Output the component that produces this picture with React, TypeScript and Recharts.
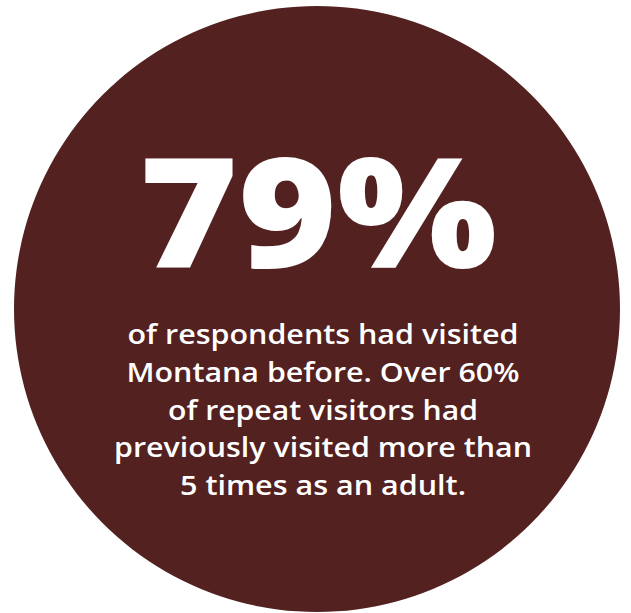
import React from 'react';
import { PieChart, Pie, Cell, Label } from 'recharts';

const sliceNames = ['Had visited Montana before'];
const sliceValues = [79];
const headline = '79%';
const bodyLines = [
  'of respondents had visited',
  'Montana before. Over 60%',
  'of repeat visitors had',
  'previously visited more than',
  '5 times as an adult.',
];
// measured widths of each line in the reference
const bodyWidths = [391, 393, 310, 418, 286];

const FILL = '#532120';

const CircleText = (props: any) => {
  const vb = props.viewBox || {};
  const cx = vb.cx ?? 317;
  const cy = vb.cy ?? 309;
  return (
    <g>
      <text
        x={cx + 1}
        y={cy - 41}
        textAnchor="middle"
        fill="#ffffff"
        fontFamily="'Open Sans', sans-serif"
        fontWeight={800}
        fontSize={152}
        textLength={358}
        lengthAdjust="spacingAndGlyphs"
      >
        {headline}
      </text>
      {bodyLines.map((line, i) => (
        <text
          key={i}
          x={cx + 6}
          y={cy + 35 + i * 37.8}
          textAnchor="middle"
          fill="#ffffff"
          fontFamily="'Open Sans', sans-serif"
          fontWeight={600}
          fontSize={27.5}
          textLength={bodyWidths[i]}
          lengthAdjust="spacingAndGlyphs"
        >
          {line}
        </text>
      ))}
    </g>
  );
};

export default function App() {
  const data = sliceNames.map((name, i) => ({ name, value: sliceValues[i] }));
  return (
    <div>
      <style>{'body{margin:0;background:#fff}'}</style>
      <PieChart width={631} height={613} margin={{ top: 0, right: 0, bottom: 0, left: 0 }}>
        <Pie
          data={data}
          dataKey="value"
          nameKey="name"
          cx={317}
          cy={309}
          innerRadius={0}
          outerRadius={303}
          startAngle={90}
          endAngle={-270}
          stroke="none"
          isAnimationActive={false}
        >
          {data.map((_, i) => (
            <Cell key={`cell-${i}`} fill={FILL} />
          ))}
          <Label position="center" content={<CircleText />} />
        </Pie>
      </PieChart>
    </div>
  );
}
